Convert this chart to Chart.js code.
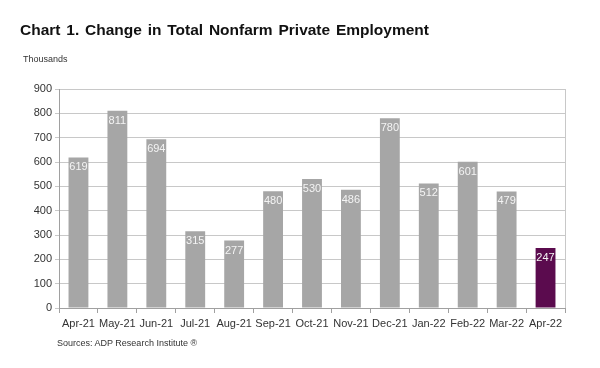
<!DOCTYPE html>
<html><head><meta charset="utf-8">
<script src="https://cdn.jsdelivr.net/npm/chart.js@4/dist/chart.umd.min.js"></script>
<style>
html,body{margin:0;padding:0;background:#fff;width:600px;height:368px;overflow:hidden;font-family:"Liberation Sans",Arial,sans-serif;}
#wrap{position:relative;width:600px;height:368px;}
canvas{position:absolute;left:0;top:0;}
.t{position:absolute;white-space:nowrap;}
#title{left:20px;top:21px;font-size:15.5px;font-weight:bold;color:#111;word-spacing:1.5px;}
#units{left:23px;top:54px;font-size:9px;color:#333;}
#src{left:57px;top:338px;font-size:9px;color:#333;}
</style></head>
<body><div id="wrap">
<canvas id="c" width="600" height="368"></canvas>
<div class="t" id="title">Chart 1. Change in Total Nonfarm Private Employment</div>
<div class="t" id="units">Thousands</div>
<div class="t" id="src">Sources: ADP Research Institute ®</div>
</div>
<script>
const categories = ["Apr-21","May-21","Jun-21","Jul-21","Aug-21","Sep-21","Oct-21","Nov-21","Dec-21","Jan-22","Feb-22","Mar-22","Apr-22"];
const values = [619, 811, 694, 315, 277, 480, 530, 486, 780, 512, 601, 479, 247];
const yTicks = [0,100,200,300,400,500,600,700,800,900];
const grayColor = "#a6a6a6";
const highlightColor = "#5b0b4e";
const barColors = values.map((v,i)=> i===values.length-1 ? highlightColor : grayColor);

const labelPlugin = {
  id:'labels',
  afterDatasetsDraw(chart){
    const ctx = chart.ctx;
    const meta = chart.getDatasetMeta(0);
    ctx.save();
    ctx.font = '11px "Liberation Sans", Arial, sans-serif';
    ctx.fillStyle = '#f4f4f4';
    ctx.textAlign = 'center';
    ctx.textBaseline = 'middle';
    meta.data.forEach((bar,i)=>{
      ctx.fillText(String(values[i]), bar.x, bar.y + 10);
    });
    ctx.restore();
  }
};
const borderPlugin = {
  id:'rborder',
  afterDraw(chart){
    const a = chart.chartArea, ctx = chart.ctx;
    ctx.save();
    ctx.strokeStyle = '#c8c8c8';
    ctx.lineWidth = 1;
    ctx.beginPath();
    ctx.moveTo(Math.round(a.right)+0.5, a.top);
    ctx.lineTo(Math.round(a.right)+0.5, a.bottom);
    ctx.stroke();
    ctx.restore();
  }
};

new Chart(document.getElementById('c'), {
  type:'bar',
  data:{labels:categories, datasets:[{data:values, backgroundColor:barColors, barPercentage:0.51, categoryPercentage:1.0}]},
  options:{
    responsive:false, animation:false,
    devicePixelRatio:1,
    layout:{padding:{left:0,right:35,top:89,bottom:0}},
    plugins:{legend:{display:false}, tooltip:{enabled:false}, title:{display:false}},
    scales:{
      x:{
        offset:true,
        grid:{display:true, offset:true, drawOnChartArea:false, drawTicks:true, tickLength:5, color:'#a0a0a0'},
        border:{display:true, color:'#a0a0a0'},
        ticks:{color:'#333', font:{family:'"Liberation Sans", Arial, sans-serif', size:11}, padding:4, maxRotation:0, autoSkip:false},
        afterFit(s){ s.height = 60; }
      },
      y:{
        min:0, max:900,
        afterBuildTicks(s){ s.ticks = yTicks.map(v=>({value:v})); },
        grid:{color:'#c8c8c8', tickLength:4, drawTicks:true},
        border:{display:true, color:'#a0a0a0'},
        ticks:{color:'#333', font:{family:'"Liberation Sans", Arial, sans-serif', size:11}, padding:3},
        afterFit(s){ s.width = 59; }
      }
    }
  },
  plugins:[labelPlugin, borderPlugin]
});
</script>
</body></html>
